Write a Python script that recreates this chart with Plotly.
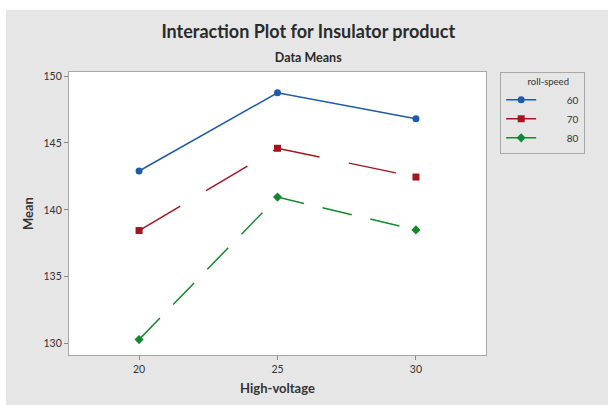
import plotly.graph_objects as go

# Means of the insulator product by high-voltage level, one series per roll-speed
high_voltage = [20, 25, 30]
speed_60 = [142.9, 148.75, 146.8]
speed_70 = [138.45, 144.6, 142.45]
speed_80 = [130.3, 140.95, 138.5]

series = [
    ("60", speed_60, "#1f5ba8", "circle", "solid"),
    ("70", speed_70, "#a4161f", "square", "48px,30px"),
    ("80", speed_80, "#13882f", "diamond", "30px,19px"),
]

fig = go.Figure()
for name, values, color, symbol, dash in series:
    fig.add_trace(go.Scatter(
        x=high_voltage, y=values, name="\u00a0" * 10 + name,
        mode="lines+markers",
        line=dict(color=color, width=1.5, dash=dash),
        marker=dict(color=color, symbol=symbol, size=7),
    ))

axis_common = dict(
    showgrid=False, zeroline=False, showline=True, mirror=True,
    linecolor="#a8a8a8", linewidth=1.2,
    ticks="outside", ticklen=4, tickcolor="#888888",
    tickfont=dict(family="Lato", size=10.5, color="#333333"),
)

fig.update_layout(
    width=608, height=405,
    paper_bgcolor="#e6e6e6", plot_bgcolor="white",
    margin=dict(l=69, r=122, t=72, b=50),
    showlegend=True,
    title=dict(
        text="<b>Interaction Plot for Insulator product</b><br>"
             "<span style='font-size:12.5px'><b>Data Means</b></span>",
        x=0.507, xanchor="center", y=0.905, yanchor="middle",
        font=dict(family="Lato", size=18, color="#2a2a2a"),
    ),
    xaxis=dict(range=[17.47, 32.53], tickvals=high_voltage,
               title=dict(text="<b>High-voltage</b>", standoff=10,
                          font=dict(family="Lato", size=13, color="#333333")),
               **axis_common),
    yaxis=dict(range=[129.15, 150.3], tickvals=[130, 135, 140, 145, 150],
               title=dict(text="<b>Mean</b>", standoff=6,
                          font=dict(family="Lato", size=13, color="#333333")),
               **axis_common),
    legend=dict(
        x=1.034, xanchor="left", y=1.0, yanchor="top",
        bgcolor="#e6e6e6", bordercolor="#a8a8a8", borderwidth=1,
        font=dict(family="Lato", size=10, color="#333333"),
        title=dict(text="\u00a0" * 10 + "roll-speed", side="top",
                   font=dict(family="Lato", size=9.5, color="#333333")),
        itemwidth=30, tracegroupgap=0,
    ),
    # white strips along the top and left edges of the page
    shapes=[
        dict(type="rect", xref="paper", yref="paper",
             x0=-0.3, x1=1.5, y0=1.22, y1=1.4,
             fillcolor="white", line=dict(width=0)),
        dict(type="rect", xref="paper", yref="paper",
             x0=-0.3, x1=-0.1511, y0=-0.3, y1=1.4,
             fillcolor="white", line=dict(width=0)),
    ],
)

fig.write_html("out.html")
